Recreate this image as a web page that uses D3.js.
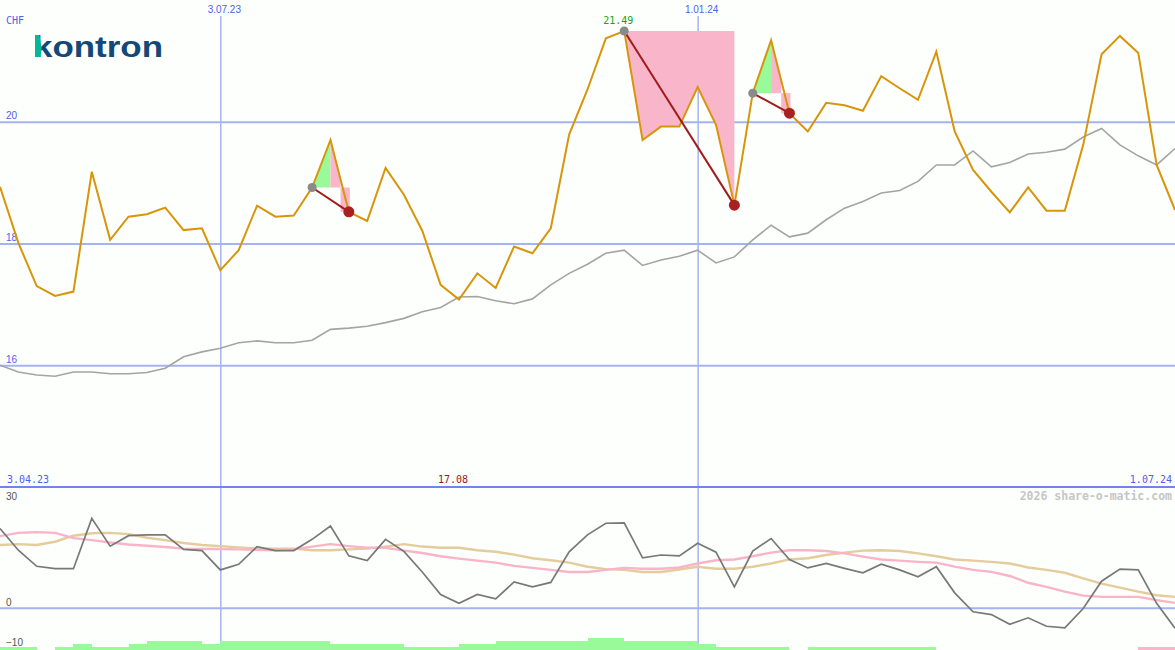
<!DOCTYPE html>
<html><head><meta charset="utf-8">
<script src="https://cdnjs.cloudflare.com/ajax/libs/d3/7.8.5/d3.min.js"></script>
<style>html,body{margin:0;padding:0;background:#fcfffc;overflow:hidden}svg{display:block}</style>
</head><body><svg id="c" width="1175" height="650"></svg>
<script>
// ---------- data ----------
const startDate = new Date(2023, 3, 10);   // first weekly point
const endDate = new Date(2024, 6, 1);      // last weekly point
const rangeLabels = ["3.04.23", "1.07.24"];
const xTickDates = [new Date(2023, 6, 3), new Date(2024, 0, 1)];
const yTicks = [16, 18, 20];
const y2Ticks = [30, 0, -10];
const currency = "CHF";
const logoText = "kontron";
const watermark = "2026 share-o-matic.com";

// Kontron share price (CHF), weekly
const price = [18.93,18.01,17.30,17.14,17.21,19.18,18.06,18.44,18.48,18.59,
  18.22,18.25,17.56,17.89,18.62,18.44,18.46,18.92,19.70,18.52,
  18.37,19.24,18.80,18.21,17.32,17.08,17.51,17.27,17.95,17.84,
  18.25,19.79,20.53,21.37,21.49,19.70,19.92,19.92,20.57,19.95,
  18.63,20.47,21.34,20.14,19.84,20.31,20.27,20.18,20.75,20.55,
  20.36,21.15,19.84,19.21,18.85,18.51,18.92,18.54,18.54,19.62,
  21.11,21.41,21.13,19.29,18.55];
// benchmark (rescaled), weekly
const benchmark = [16.00,15.89,15.84,15.82,15.89,15.89,15.86,15.86,15.88,15.95,
  16.14,16.22,16.28,16.37,16.40,16.37,16.37,16.41,16.59,16.61,
  16.64,16.70,16.77,16.88,16.95,17.12,17.13,17.06,17.01,17.09,
  17.32,17.51,17.66,17.84,17.89,17.64,17.73,17.79,17.89,17.68,
  17.78,18.06,18.30,18.11,18.17,18.39,18.58,18.69,18.83,18.87,
  19.02,19.29,19.29,19.52,19.26,19.33,19.47,19.50,19.55,19.75,
  19.89,19.62,19.44,19.29,19.56];
// lower panel indicator
const indicator = [19.7,14.3,10.3,9.7,9.7,22.2,15.3,17.9,18.1,18.1,
  14.5,14.2,9.4,10.8,15.2,14.2,14.2,17.0,20.3,12.9,
  11.7,17.0,14.0,8.9,3.3,1.1,3.3,2.2,6.4,5.2,
  6.3,13.9,18.1,21.0,21.1,12.4,13.1,12.9,16.0,13.8,
  5.2,14.1,17.2,12.0,9.9,11.0,9.8,8.7,10.8,9.4,
  7.7,10.2,3.7,-1.0,-1.7,-4.1,-2.5,-4.6,-5.0,-0.2,
  6.6,9.6,9.4,1.1,-5.1];
const maFast = [17.8,18.6,18.8,18.6,17.3,16.8,16.2,15.7,15.4,15.1,
  14.7,14.6,14.6,14.5,14.4,14.3,14.5,15.2,15.8,15.3,
  14.9,14.9,14.2,13.6,12.8,12.2,11.7,11.2,10.4,9.9,
  9.4,8.9,8.9,9.4,9.9,9.7,9.7,10.0,11.0,11.8,
  12.0,12.8,13.7,14.3,14.3,14.1,13.5,12.7,12.0,11.7,
  11.4,11.2,10.2,9.4,8.9,7.9,6.2,5.2,4.0,3.0,
  2.7,2.7,2.7,1.9,1.2];
const maSlow = [15.6,15.8,15.6,16.4,17.9,18.5,18.6,18.3,17.4,16.8,
  16.1,15.6,15.3,15.0,14.7,14.7,14.7,14.3,14.3,14.5,
  14.7,15.2,15.8,15.2,14.9,14.9,14.3,13.9,13.2,12.3,
  11.8,11.2,10.2,9.6,9.4,8.9,8.9,9.5,10.2,9.7,
  9.7,10.2,11.0,12.0,12.3,13.1,13.7,14.2,14.3,14.1,
  13.5,12.8,12.0,11.7,11.4,11.0,10.0,9.4,8.7,7.3,
  6.0,5.0,4.0,3.1,2.7];
// signal bars, one per weekly interval (positive = green, negative = pink)
const signal = [1,1,0,1,2,1,1,2,3,3,3,2,3,3,3,3,3,3,2,2,2,2,1,1,1,2,2,3,3,3,3,3,4,4,
  3,3,3,3,2,1,1,1,1,0,1,1,1,1,1,1,1,0,0,0,0,0,0,0,0,0,0,0,-1,-1];
// swing annotations: start, peak, end indices
const swings = [{s:17,p:18,e:19},{s:34,p:34,e:40},{s:41,p:42,e:43}];
const maxIdx = 34, minIdx = 25;

// ---------- chart ----------
const W = 1175, H = 650;
const FONT = "'DejaVu Sans Mono', monospace";
const svg = d3.select("#c");
svg.append("rect").attr("width", W).attr("height", H).attr("fill", "#fcfffc");

const dates = price.map((d, i) => d3.timeDay.offset(startDate, 7 * i));
const x = d3.scaleTime().domain([startDate, endDate]).range([0, W]);
const y = d3.scaleLinear().domain([14, 22]).range([487, 0]);
const y2 = d3.scaleLinear().domain([-10, 30]).range([648, 487]);
const yb = d3.scaleLinear().domain([0, 4]).range([650, 638]);
const X = i => x(dates[i]);

// horizontal grid (main)
const gY = svg.append("g").attr("font-family", FONT).attr("font-size", 10)
  .call(d3.axisRight(y).tickValues(yTicks).tickSize(W).tickFormat(d3.format("d")));
gY.select(".domain").remove();
gY.selectAll("line").attr("stroke", "#a6b3f2").attr("stroke-width", 2);
gY.selectAll("text").attr("x", 6).attr("dy", 0).attr("y", -3).attr("text-anchor", "start").attr("fill", "#5060f0");

// vertical date grid
const gX = svg.append("g").attr("transform", "translate(0,16)").attr("font-family", FONT).attr("font-size", 10)
  .call(d3.axisBottom(x).tickValues(xTickDates).tickSize(H - 16).tickFormat(d3.timeFormat("%-d.%m.%y")));
gX.select(".domain").remove();
gX.selectAll("line").attr("stroke", "#a6b3f2").attr("stroke-width", 1.5);
gX.selectAll("text").attr("y", -3.5).attr("dy", 0).attr("dx", 3.5).attr("fill", "#5060f0");

// lower panel grid
const gY2 = svg.append("g").attr("font-family", FONT).attr("font-size", 10)
  .call(d3.axisRight(y2).tickValues(y2Ticks).tickSize(W).tickFormat(d3.format("d")));
gY2.select(".domain").remove();
gY2.selectAll("line").attr("stroke", d => d === 0 ? "#a6b3f2" : "none").attr("stroke-width", 2);
gY2.selectAll("text").attr("x", 6).attr("dy", 0).attr("y", d => d === 30 ? 12 : -2.5)
  .attr("text-anchor", "start").attr("fill", "#555");

// panel separator
svg.append("line").attr("x1", 0).attr("x2", W).attr("y1", y2(30)).attr("y2", y2(30))
  .attr("stroke", "#7282ee").attr("stroke-width", 2);

// signal bars
svg.append("g").selectAll("rect").data(signal.map((v, i) => ({v, i})).filter(d => d.v !== 0))
  .join("rect")
  .attr("x", d => X(d.i)).attr("width", d => X(d.i + 1) - X(d.i))
  .attr("y", d => yb(Math.abs(d.v))).attr("height", d => yb(0) - yb(Math.abs(d.v)))
  .attr("fill", d => d.v > 0 ? "#98fa98" : "#f8b6ca").attr("shape-rendering", "crispEdges");

// swing fills
const PINK = "#f9b6cb", GREEN = "#98fa98";
const frac = 0.55;
swings.forEach(w => {
  const ys = y(price[w.s]);
  if (w.s === w.p) {
    const pts = [[X(w.p), y(price[w.p])], [X(w.e), y(price[w.p])]];
    for (let i = w.e; i >= w.p; i--) pts.push([X(i), y(price[i])]);
    svg.append("path").attr("d", d3.line()(pts) + "Z").attr("fill", PINK);
  } else {
    svg.append("path").attr("d", d3.line()([[X(w.s), ys], [X(w.p), y(price[w.p])], [X(w.p), ys]]) + "Z").attr("fill", GREEN);
    const xf = X(w.p) + frac * (X(w.e) - X(w.p));
    const yf = y(price[w.p]) + frac * (y(price[w.e]) - y(price[w.p]));
    svg.append("path").attr("d", d3.line()([[X(w.p), y(price[w.p])], [xf, yf], [xf, ys], [X(w.p), ys]]) + "Z").attr("fill", PINK);
    svg.append("path").attr("d", d3.line()([[xf, ys], [X(w.e) + 1, ys], [X(w.e) + 1, y(price[w.e])], [xf, y(price[w.e])]]) + "Z").attr("fill", PINK);
  }
});

// lines
const line = yy => d3.line().x((d, i) => X(i)).y(d => yy(d));
svg.append("path").attr("d", line(y)(benchmark)).attr("fill", "none").attr("stroke", "#a4a4a4").attr("stroke-width", 1.6);
svg.append("path").attr("d", line(y)(price)).attr("fill", "none").attr("stroke", "#d9950a").attr("stroke-width", 2).attr("stroke-linejoin", "miter");
svg.append("path").attr("d", line(y2)(maSlow)).attr("fill", "none").attr("stroke", "#e4cc9c").attr("stroke-width", 2.4);
svg.append("path").attr("d", line(y2)(maFast)).attr("fill", "none").attr("stroke", "#f9b4c8").attr("stroke-width", 2.4);
svg.append("path").attr("d", line(y2)(indicator)).attr("fill", "none").attr("stroke", "#787878").attr("stroke-width", 1.7);

// swing connectors and dots
swings.forEach(w => {
  svg.append("line").attr("x1", X(w.s)).attr("y1", y(price[w.s])).attr("x2", X(w.e)).attr("y2", y(price[w.e]))
    .attr("stroke", "#a01c1c").attr("stroke-width", 2);
  svg.append("circle").attr("cx", X(w.s)).attr("cy", y(price[w.s])).attr("r", 4.5).attr("fill", "#8a8a8a");
  svg.append("circle").attr("cx", X(w.e)).attr("cy", y(price[w.e])).attr("r", 5.5).attr("fill", "#a82020");
});

// labels
const txt = (t, xx, yy, fill, anchor, extra) => svg.append("text").text(t).attr("x", xx).attr("y", yy)
  .attr("fill", fill).attr("text-anchor", anchor || "start").style("font-family", FONT).style("font-size", "10px");
txt(currency, 6, 24, "#5060f0");
txt(d3.format(".2f")(price[maxIdx]), X(maxIdx) - 6, y(price[maxIdx]) - 7, "#20a020", "middle");
txt(d3.format(".2f")(price[minIdx]), X(minIdx) - 6, 483, "#a01818", "middle");
txt(rangeLabels[0], 7, 483, "#5060f0");
txt(rangeLabels[1], 1172, 483, "#5060f0", "end");
svg.append("text").text(watermark).attr("x", 1172).attr("y", 500).attr("text-anchor", "end")
  .attr("fill", "#c6c6c6").style("font-family", FONT).style("font-size", "11.5px").style("font-weight", "bold");

// logo
svg.append("text").text(logoText).attr("x", 33).attr("y", 57).attr("textLength", 130).attr("lengthAdjust", "spacingAndGlyphs")
  .attr("fill", "#134878").style("font-family", "'Liberation Sans', Arial, sans-serif").style("font-size", "30px").style("font-weight", "bold");
svg.append("path").attr("d", "M35,35 L39.5,35 L41.5,49 L40.5,57 L35,57 Z").attr("fill", "#00b996");
</script></body></html>
